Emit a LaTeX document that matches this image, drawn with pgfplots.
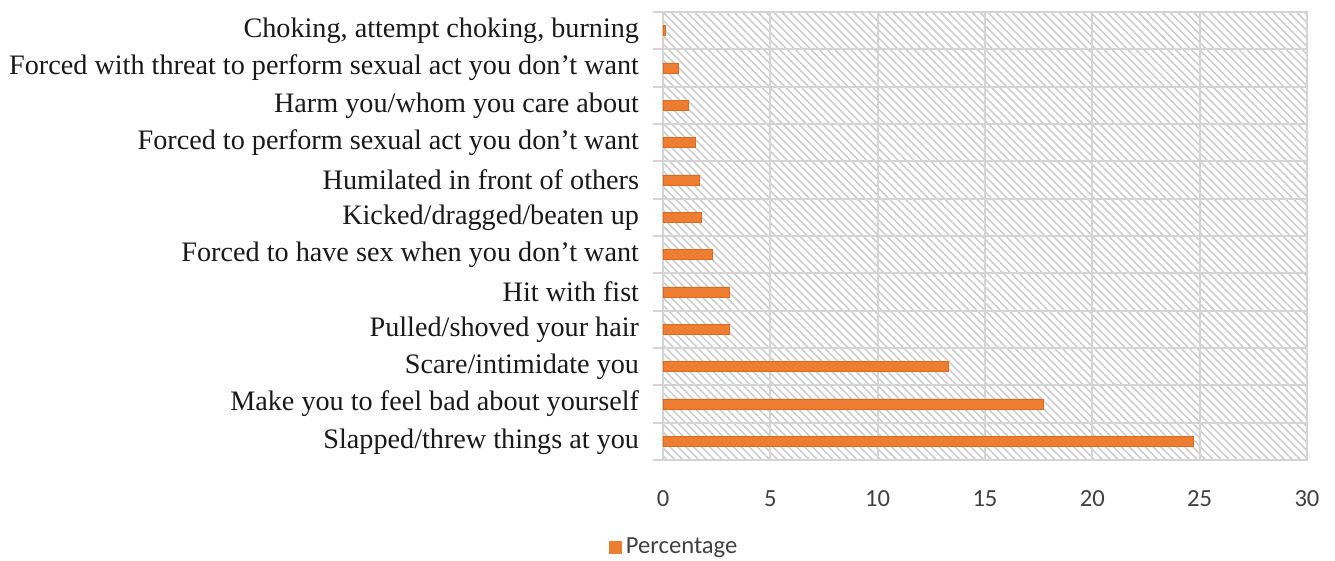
\documentclass[border=0pt]{standalone}
\usepackage{pgfplots}
\pgfplotsset{compat=1.18}
\usepackage{fontspec}
\setmainfont{Liberation Serif}
\newfontfamily\carlito{Carlito}
\usetikzlibrary{patterns.meta}
\definecolor{barorange}{RGB}{237,125,49}
\definecolor{baredge}{RGB}{222,105,30}
\definecolor{gridgray}{RGB}{212,212,212}
\definecolor{hatchgray}{RGB}{205,205,205}
\definecolor{ticktext}{RGB}{64,64,64}
\begin{document}
\begin{tikzpicture}
\begin{axis}[
  at={(0,0)}, anchor=south west,
  scale only axis,
  width=322pt, height=224pt,
  xbar, bar width=5pt,
  xmin=0, xmax=30,
  ymin=-0.5, ymax=11.5,
  xtick={0,5,...,30},
  ytick={0,...,11},
  yticklabels={Slapped/threw things at you,
    Make you to feel bad about yourself,
    Scare/intimidate you,
    Pulled/shoved your hair,
    Hit with fist,
    Forced to have sex when you don’t want,
    Kicked/dragged/beaten up,
    Humilated in front of others,
    Forced to perform sexual act you don’t want,
    Harm you/whom you care about,
    Forced with threat to perform sexual act you don’t want,
    {Choking, attempt choking, burning}},
  minor ytick={-0.5,0.5,...,11.5},
  ymajorgrids=false,
  yminorgrids=true,
  xmajorgrids=true,
  grid style={draw=gridgray, line width=1pt},
  minor grid style={draw=gridgray, line width=1pt},
  axis line style={draw=gridgray, line width=1pt},
  tick align=outside,
  ytick style={draw=none},
  xtick style={draw=none},
  minor y tick style={draw=gridgray, line width=1pt},
  minor tick length=5pt,
  ytick pos=left,
  yticklabel style={font=\fontsize{14.1}{16}\selectfont, text=black!90, anchor=east, inner sep=0pt, xshift=-7.5pt},
  xticklabel style={font=\carlito\fontsize{12.3}{14}\selectfont, text=ticktext, anchor=north, inner sep=0pt, yshift=-11pt},
  /pgf/number format/assume math mode=true,
  axis background/.style={pattern={Lines[angle=-45,distance=2.8pt,line width=0.8pt]}, pattern color=hatchgray},
  legend style={at={(rel axis cs:0.019,-0.194)}, anchor=center, draw=none, fill=none,
    font=\carlito\fontsize{12.3}{14}\selectfont, text=ticktext, inner sep=0pt},
  legend cell align=left,
]
\addplot[fill=barorange, draw=baredge, line width=0.4pt,
  legend image code/.code={\fill[barorange] (0pt,-3pt) rectangle (6pt,3pt);}]
  coordinates {
  (24.7,0) (17.7,1) (13.3,2) (3.1,3) (3.1,4) (2.3,5)
  (1.8,6) (1.7,7) (1.5,8) (1.2,9) (0.7,10) (0.12,11)
};
\addlegendentry{Percentage}
\end{axis}
\pgfresetboundingbox
\path[use as bounding box] (-331.5pt,-50.5pt) rectangle (336pt,230pt);
\end{tikzpicture}
\end{document}
